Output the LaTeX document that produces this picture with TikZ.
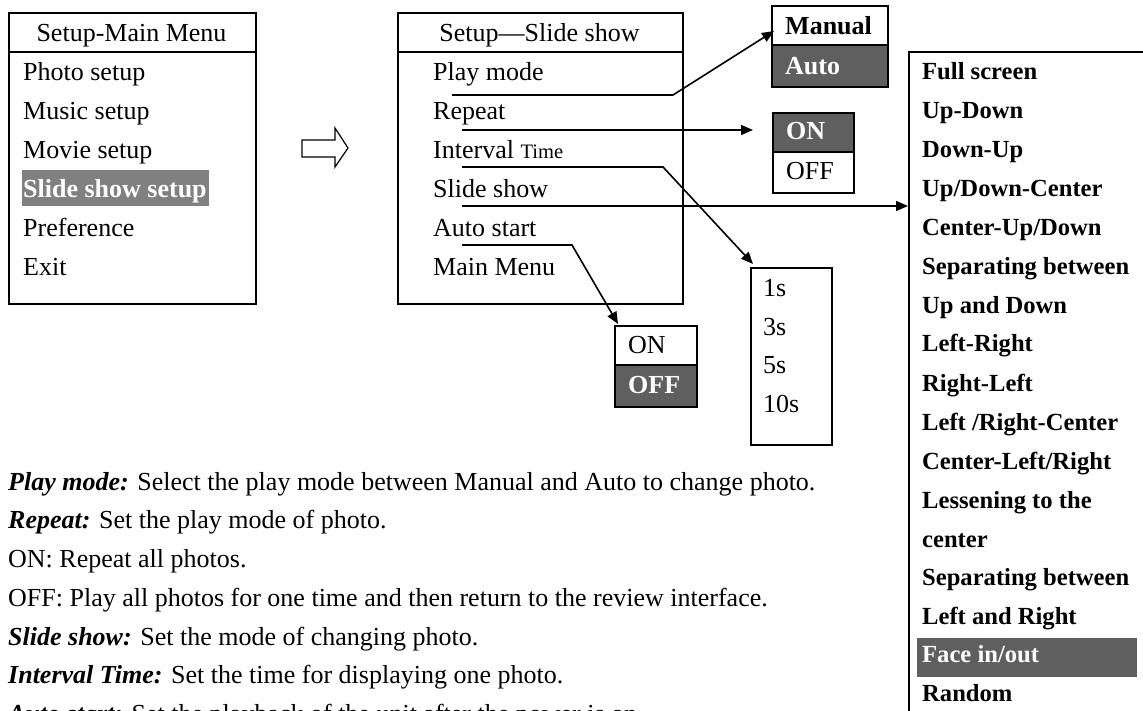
\documentclass[tikz,border=0pt]{standalone}
\usepackage{fontspec}
\setmainfont{Liberation Serif}
\usetikzlibrary{arrows.meta}
\definecolor{hlA}{HTML}{808080}
\definecolor{hlB}{HTML}{5F5F5F}
\newcommand{\fmain}{\fontsize{26}{30}\selectfont}
\newcommand{\flist}{\fontsize{24.6}{28}\selectfont\bfseries}
\tikzset{
  box/.style={draw, line width=1.6pt, inner sep=0pt, anchor=north west},
  txt/.style={anchor=base west, inner sep=0pt, font=\fmain},
  txtb/.style={anchor=base west, inner sep=0pt, font=\fmain\bfseries},
  ctr/.style={anchor=base, inner sep=0pt, font=\fmain},
  lst/.style={anchor=base west, inner sep=0pt, font=\flist},
  sep/.style={line width=1.6pt},
  conn/.style={line width=1.6pt},
  arr/.style={line width=1.6pt, -{Triangle[length=12pt,width=10pt]}},
}
\begin{document}
\begin{tikzpicture}[x=1pt,y=-1pt]
\useasboundingbox (0,0) rectangle (1143,711);
\clip (0,0) rectangle (1143,711);

% ---------- left box ----------
\node[box, minimum width=247pt, minimum height=291pt] (mainbox) at (8,12) {};
\draw[sep] (8,52) -- (255,52);
\node[ctr] (mainhead) at (131.5,42) {Setup-Main Menu};
\node[txt] (m1) at (23,81) {Photo setup};
\node[txt] (m2) at (23,120) {Music setup};
\node[txt] (m3) at (23,159) {Movie setup};
\fill[hlA] (22,170) rectangle (209,206);
\node[txtb, text=white] (m4) at (23,198) {Slide show setup};
\node[txt] (m5) at (23,237) {Preference};
\node[txt] (m6) at (23,276) {Exit};

% ---------- hollow arrow ----------
\draw[line width=1.2pt] (302,140) -- (335,140) -- (335,128) -- (348,148)
  -- (335,167) -- (335,157) -- (302,157) -- cycle;

% ---------- middle box ----------
\node[box, minimum width=285pt, minimum height=291pt] (slidebox) at (397,12) {};
\draw[sep] (397,52) -- (682,52);
\node[ctr] (slidehead) at (539.5,42) {Setup---Slide show};
\node[txt] (s1) at (433,81) {Play mode};
\node[txt] (s2) at (433,120) {Repeat};
\node[txt] (s3) at (433,159) {Interval {\fontsize{20.5}{24}\selectfont Time}};
\node[txt] (s4) at (433,198) {Slide show};
\node[txt] (s5) at (433,237) {Auto start};
\node[txt] (s6) at (433,276) {Main Menu};

% ---------- Manual / Auto ----------
\fill[hlB] (771,45) rectangle (887,86);
\node[box, minimum width=116pt, minimum height=81pt] (modebox) at (771,5) {};
\draw[sep] (771,45) -- (887,45);
\node[txtb] (manual) at (785,35) {Manual};
\node[txtb, text=white] (auto) at (785,75) {Auto};

% ---------- Repeat ON / OFF ----------
\fill[hlB] (772,112) rectangle (853,152);
\node[box, minimum width=81pt, minimum height=80pt] (repbox) at (772,112) {};
\draw[sep] (772,152) -- (853,152);
\node[txtb, text=white] (repon) at (786,140) {ON};
\node[txt] (repoff) at (786,180) {OFF};

% ---------- Auto start ON / OFF ----------
\fill[hlB] (614,365) rectangle (696,406);
\node[box, minimum width=82pt, minimum height=81pt] (asbox) at (614,325) {};
\draw[sep] (614,365) -- (696,365);
\node[txt] (ason) at (628,353) {ON};
\node[txtb, text=white] (asoff) at (628,393) {OFF};

% ---------- Interval times ----------
\node[box, minimum width=81pt, minimum height=177pt] (intbox) at (750,267) {};
\node[txt] (t1) at (763,297) {1s};
\node[txt] (t2) at (763,335) {3s};
\node[txt] (t3) at (763,373) {5s};
\node[txt] (t4) at (763,412) {10s};

% ---------- Slide show modes ----------
\node[box, minimum width=260pt, minimum height=680pt] (listbox) at (908,51) {};
\fill[hlB] (917,638) rectangle (1137,677);
\node[lst] (l1) at (922,80) {Full screen};
\node[lst] (l2) at (922,119) {Up-Down};
\node[lst] (l3) at (922,158) {Down-Up};
\node[lst] (l4) at (922,197) {Up/Down-Center};
\node[lst] (l5) at (922,236) {Center-Up/Down};
\node[lst] (l6) at (922,275) {Separating between};
\node[lst] (l7) at (922,313) {Up and Down};
\node[lst] (l8) at (922,352) {Left-Right};
\node[lst] (l9) at (922,391) {Right-Left};
\node[lst] (l10) at (922,430) {Left /Right-Center};
\node[lst] (l11) at (922,469) {Center-Left/Right};
\node[lst] (l12) at (922,508) {Lessening to the};
\node[lst] (l13) at (922,547) {center};
\node[lst] (l14) at (922,585) {Separating between};
\node[lst] (l15) at (922,624) {Left and Right};
\node[lst, text=white] (l16) at (922,662) {Face in/out};
\node[lst] (l17) at (922,701) {Random};

% ---------- connectors ----------
\coordinate (pmS) at (452,95);
\coordinate (pmK) at (673,95);
\coordinate (pmT) at (774,31);
\draw[arr] (pmS) -- (pmK) -- (pmT);

\coordinate (rpS) at (462,130);
\coordinate (rpT) at (753,130);
\draw[arr] (rpS) -- (rpT);

\coordinate (itS) at (462,167);
\coordinate (itK) at (663,167);
\coordinate (itT) at (753,264);
\draw[arr] (itS) -- (itK) -- (itT);

\coordinate (ssS) at (462,206);
\draw[arr] (ssS) -- (listbox.west |- ssS);

\coordinate (asS) at (462,245);
\coordinate (asK) at (572,245);
\coordinate (asT) at (618,324);
\draw[arr] (asS) -- (asK) -- (asT);

% ---------- description text ----------
\node[txt] (d1) at (8,490) {\textbf{\textit{Play mode:}} Select the play mode between Manual and Auto to change photo.};
\node[txt] (d2) at (8,528) {\textbf{\textit{Repeat:}} Set the play mode of photo.};
\node[txt] (d3) at (8,567) {ON: Repeat all photos.};
\node[txt] (d4) at (8,606) {OFF: Play all photos for one time and then return to the review interface.};
\node[txt] (d5) at (8,645) {\textbf{\textit{Slide show:}} Set the mode of changing photo.};
\node[txt] (d6) at (8,683) {\textbf{\textit{Interval Time:}} Set the time for displaying one photo.};
\node[txt] (d7) at (8,722) {\textbf{\textit{Auto start:}} Set the playback of the unit after the power is on.};
\end{tikzpicture}
\end{document}
